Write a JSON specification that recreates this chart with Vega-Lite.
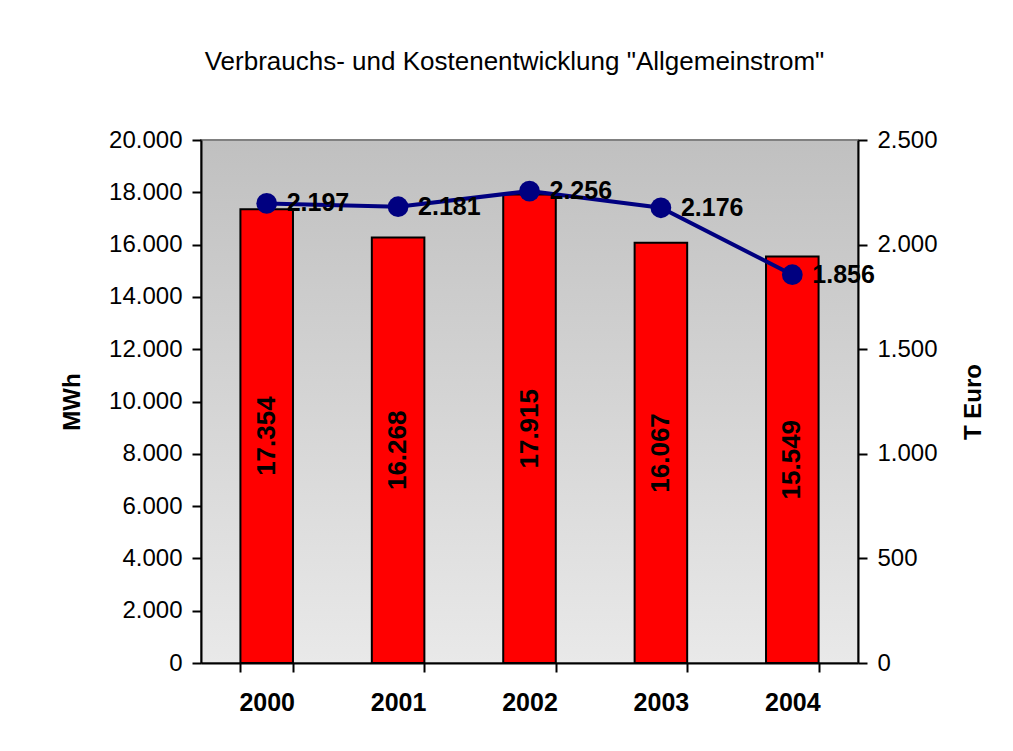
{
  "$schema": "https://vega.github.io/schema/vega-lite/v6.json",
  "autosize": "none",
  "width": 657,
  "height": 523,
  "padding": {"left": 201, "top": 140, "right": 155, "bottom": 88},
  "background": "white",
  "title": {
    "text": "Verbrauchs- und Kostenentwicklung \"Allgemeinstrom\"",
    "font": "Liberation Sans",
    "fontSize": 26,
    "fontWeight": "normal",
    "color": "black",
    "offset": 53,
    "dx": -15
  },
  "config": {
    "locale": {"number": {"decimal": ",", "thousands": ".", "grouping": [3], "currency": ["", " €"]}},
    "view": {
      "stroke": "#808080",
      "strokeWidth": 2,
      "fill": {"gradient": "linear", "x1": 0, "y1": 0, "x2": 0, "y2": 1, "stops": [{"offset": 0, "color": "#c0c0c0"}, {"offset": 1, "color": "#e9e9e9"}]}
    },
    "axis": {
      "labelFont": "Liberation Sans",
      "titleFont": "Liberation Sans",
      "labelColor": "black",
      "titleColor": "black",
      "domainColor": "black",
      "tickColor": "black",
      "domainWidth": 2,
      "tickWidth": 2,
      "grid": false
    }
  },
  "data": {
    "values": [
      {"year": "2000", "mwh": 17354, "teuro": 2197},
      {"year": "2001", "mwh": 16268, "teuro": 2181},
      {"year": "2002", "mwh": 17915, "teuro": 2256},
      {"year": "2003", "mwh": 16067, "teuro": 2176},
      {"year": "2004", "mwh": 15549, "teuro": 1856}
    ]
  },
  "encoding": {
    "x": {
      "field": "year",
      "type": "nominal",
      "scale": {"paddingInner": 0.6, "paddingOuter": 0.3},
      "axis": {
        "title": null,
        "labelAngle": 0,
        "labelFontSize": 25,
        "labelFontWeight": "bold",
        "labelPadding": 18,
        "tickBand": "extent",
        "tickSize": 9
      }
    }
  },
  "layer": [
    {
      "mark": {"type": "bar", "color": "#ff0000", "stroke": "black", "strokeWidth": 2},
      "encoding": {
        "y": {
          "field": "mwh",
          "type": "quantitative",
          "scale": {"domain": [0, 20000], "nice": false},
          "axis": {
            "title": "MWh",
            "titleFontSize": 24,
            "titleFontWeight": "bold",
            "titlePadding": 24,
            "labelFontSize": 24,
            "labelPadding": 10,
            "tickSize": 9,
            "values": [0, 2000, 4000, 6000, 8000, 10000, 12000, 14000, 16000, 18000, 20000],
            "format": ",.0f"
          }
        }
      }
    },
    {
      "mark": {"type": "text", "angle": 270, "font": "Liberation Sans", "fontSize": 26, "fontWeight": "bold", "color": "black", "align": "center", "baseline": "middle"},
      "encoding": {
        "y": {"field": "mwh", "type": "quantitative", "scale": {"domain": [0, 40000], "nice": false}, "axis": null},
        "text": {"field": "mwh", "type": "quantitative", "format": ",.0f"}
      }
    },
    {
      "layer": [
        {
          "mark": {"type": "line", "color": "#000080", "strokeWidth": 4, "point": {"filled": true, "size": 430, "color": "#000080", "opacity": 1}}
        },
        {
          "mark": {"type": "text", "font": "Liberation Sans", "fontSize": 25, "fontWeight": "bold", "color": "black", "align": "left", "baseline": "middle", "dx": 20},
          "encoding": {
            "text": {"field": "teuro", "type": "quantitative", "format": ",.0f"}
          }
        }
      ],
      "encoding": {
        "y": {
          "field": "teuro",
          "type": "quantitative",
          "scale": {"domain": [0, 2500], "nice": false},
          "axis": {
            "orient": "right",
            "title": "T Euro",
            "titleAngle": 270,
            "titleFontSize": 24,
            "titleFontWeight": "bold",
            "titlePadding": 48,
            "labelFontSize": 24,
            "labelPadding": 10,
            "tickSize": 9,
            "values": [0, 500, 1000, 1500, 2000, 2500],
            "format": ",.0f"
          }
        }
      }
    }
  ],
  "resolve": {"scale": {"y": "independent"}}
}
